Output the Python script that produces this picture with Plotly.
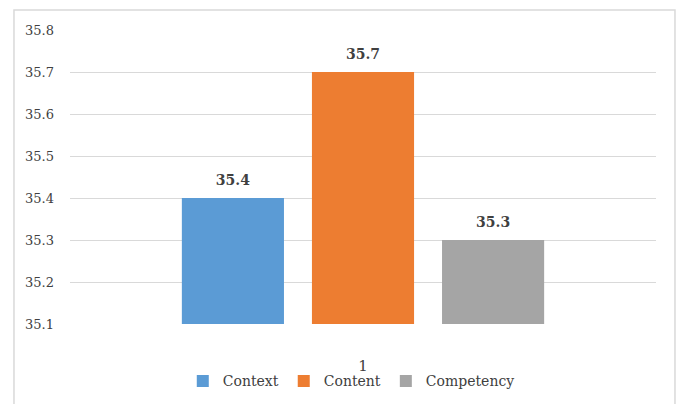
import plotly.graph_objects as go

categories = ["1"]
series_names = ["Context", "Content", "Competency"]
context_vals = [35.4]
content_vals = [35.7]
competency_vals = [35.3]
y_ticks = [35.1, 35.2, 35.3, 35.4, 35.5, 35.6, 35.7, 35.8]

colors = ["#5B9BD5", "#ED7D31", "#A5A5A5"]
FONT = "DejaVu Serif"
TXT = "#404040"

fig = go.Figure()
all_vals = [context_vals, content_vals, competency_vals]
for i, (name, vals, col) in enumerate(zip(series_names, all_vals, colors)):
    fig.add_trace(go.Bar(
        x=categories, y=vals, name=name, offsetgroup=str(i),
        marker=dict(color=col, line=dict(width=0)),
    ))
for i, (name, vals) in enumerate(zip(series_names, all_vals)):
    fig.add_trace(go.Scatter(
        x=categories, y=vals, name=name, offsetgroup=str(i), showlegend=False,
        mode="markers+text", marker=dict(size=13, opacity=0),
        text=[f"<b>{v:.1f}</b>" for v in vals], textposition="top center",
        textfont=dict(family=FONT, size=14, color=TXT), cliponaxis=False,
        hoverinfo="skip",
    ))

fig.update_layout(
    width=681, height=404,
    margin=dict(l=70, r=25, t=30, b=80, autoexpand=False),
    paper_bgcolor="white", plot_bgcolor="white",
    barmode="group", bargap=0.334, bargroupgap=0.215,
    scattermode="group", scattergap=0.334,
    font=dict(family=FONT, size=13, color=TXT),
    showlegend=True,
    legend=dict(orientation="h", x=0.48, xanchor="center", y=-0.195, yanchor="middle",
                bgcolor="rgba(0,0,0,0)",
                font=dict(family=FONT, size=14, color=TXT), itemwidth=30,
                traceorder="normal"),
    xaxis=dict(type="category", showgrid=False, showline=False, ticks="", automargin=False,
               tickfont=dict(family=FONT, size=15, color=TXT), ticklabelstandoff=31),
    yaxis=dict(range=[35.1, 35.8], tickvals=y_ticks, ticktext=[f"{t:.1f}" for t in y_ticks],
               showgrid=True, gridcolor="#D9D9D9", gridwidth=1, zeroline=False, automargin=False,
               showline=False, ticks="", ticklabelstandoff=15,
               tickfont=dict(family=FONT, size=13, color=TXT)),
    shapes=[dict(type="rect", xref="paper", yref="paper",
                 x0=-0.0956, x1=1.0324, y0=-0.3, y1=1.068,
                 line=dict(color="#D9D9D9", width=1.5), fillcolor="rgba(0,0,0,0)", layer="below")],
)

fig.write_html("out.html")
